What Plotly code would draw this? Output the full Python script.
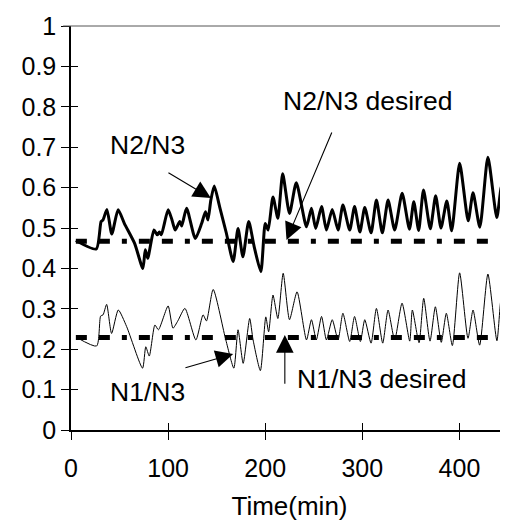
import plotly.graph_objects as go

# ---------------- data ----------------
n2_time = [5, 26, 31, 33, 37, 42, 48.5, 55, 65.5, 74, 76.5, 79, 85.4, 88.8, 91, 93,
           100, 104, 107.3, 112, 114, 119, 128, 134.5, 138.5, 141, 144, 147.5, 153,
           160, 167, 172, 177, 183, 188.6, 195.5, 200, 203, 208, 213, 218, 225, 232,
           242.5, 247.6, 252, 258, 263, 269, 275, 280, 287, 292, 297.5, 302.5, 309,
           314.5, 320.6, 326.5, 333.3, 341, 348.5, 353, 358, 363, 370, 375.5, 381,
           387, 392, 400.2, 409, 414, 421, 429.3, 438.5, 443.5, 450]
n2_ratio = [0.469, 0.448, 0.516, 0.52, 0.546, 0.485, 0.545, 0.511, 0.462, 0.40, 0.446, 0.425,
            0.495, 0.483, 0.49, 0.483, 0.545, 0.52, 0.495, 0.516, 0.505, 0.549, 0.474,
            0.511, 0.54, 0.52, 0.569, 0.604, 0.553, 0.487, 0.417, 0.499, 0.429, 0.516,
            0.454, 0.392, 0.511, 0.495, 0.577, 0.524, 0.634, 0.536, 0.612, 0.503, 0.549,
            0.499, 0.553, 0.495, 0.546, 0.495, 0.557, 0.495, 0.553, 0.49, 0.551, 0.488,
            0.569, 0.488, 0.569, 0.495, 0.586, 0.497, 0.565, 0.494, 0.594, 0.498, 0.58,
            0.5, 0.567, 0.493, 0.66, 0.518, 0.587, 0.502, 0.675, 0.526, 0.605, 0.538]

n1_time = [5.8, 26.4, 30.5, 33, 36.7, 41.8, 48.7, 57.3, 73.7, 77, 80.6, 86.4, 90, 100,
           105, 110, 117.3, 128.6, 136, 139.5, 146.4, 159, 167.7, 172, 177.3, 184,
           187.5, 195, 200.6, 203.5, 208, 213, 218.5, 225, 232.8, 242.5, 247.6, 252.6,
           258, 263, 269, 275, 280, 287, 292, 298, 302.5, 309, 314.5, 321, 326.5,
           333.3, 340.9, 348.8, 351.5, 358.4, 363.2, 369.7, 375.2, 381.3, 386.5,
           392.7, 400.2, 408.8, 414, 420.8, 429.3, 438.6, 443, 449]
n1_ratio = [0.229, 0.208, 0.282, 0.285, 0.311, 0.239, 0.297, 0.256, 0.153, 0.206, 0.183,
            0.26, 0.248, 0.307, 0.252, 0.27, 0.301, 0.223, 0.285, 0.27, 0.348, 0.227,
            0.153, 0.248, 0.165, 0.276, 0.223, 0.147, 0.28, 0.243, 0.334, 0.276, 0.388,
            0.273, 0.342, 0.223, 0.273, 0.223, 0.281, 0.223, 0.273, 0.223, 0.289, 0.219,
            0.281, 0.219, 0.273, 0.215, 0.301, 0.215, 0.297, 0.223, 0.314, 0.22, 0.297,
            0.216, 0.326, 0.22, 0.305, 0.217, 0.289, 0.209, 0.389, 0.227, 0.297, 0.21,
            0.386, 0.221, 0.326, 0.235]

desired_time = [5, 436]
n2_desired = [0.467, 0.467]
n1_desired = [0.229, 0.229]

x_ticks = [0, 100, 200, 300, 400]
y_ticks = [0, 0.1, 0.2, 0.3, 0.4, 0.5, 0.6, 0.7, 0.8, 0.9, 1]

FONT = "Arial, Liberation Sans, sans-serif"

fig = go.Figure()
dash_pat = "11px,12px,11px,12px,5px,12px"
fig.add_trace(go.Scatter(x=desired_time, y=n2_desired, mode="lines",
                         line=dict(color="black", width=5, dash=dash_pat), showlegend=False))
fig.add_trace(go.Scatter(x=desired_time, y=n1_desired, mode="lines",
                         line=dict(color="black", width=5, dash=dash_pat), showlegend=False))
fig.add_trace(go.Scatter(x=n2_time, y=n2_ratio, mode="lines",
                         line=dict(color="black", width=3, shape="spline", smoothing=0.6),
                         showlegend=False))
fig.add_trace(go.Scatter(x=n1_time, y=n1_ratio, mode="lines",
                         line=dict(color="black", width=1, shape="spline", smoothing=0.6),
                         showlegend=False))
# invisible trace to anchor overlay axes (inside half of the crossing ticks)
fig.add_trace(go.Scatter(x=[None], y=[None], xaxis="x2", yaxis="y2", showlegend=False))

axis_common = dict(showgrid=False, zeroline=False, linecolor="black", linewidth=1.5,
                   tickcolor="black", tickwidth=1, ticklen=8, ticks="outside",
                   automargin=False,
                   tickfont=dict(family=FONT, size=25, color="black"))
# page body has an 8px margin, so the figure is sized/offset to compensate
fig.update_layout(
    template="none",
    width=500, height=519,
    margin=dict(l=63, r=0, t=18, b=97, pad=0),
    plot_bgcolor="white", paper_bgcolor="white",
    font=dict(family=FONT, size=25, color="black"),
    xaxis=dict(range=[0, 450], tickvals=x_ticks, showline=True, ticklabelstandoff=7,
               title=dict(text="Time(min)", font=dict(family=FONT, size=26), standoff=16),
               **axis_common),
    yaxis=dict(range=[0, 1], tickvals=y_ticks, showline=True, **axis_common),
    xaxis2=dict(range=[0, 450], tickvals=x_ticks, overlaying="x", side="bottom",
                anchor="y2", showticklabels=False, ticks="inside", ticklen=7,
                tickcolor="black", showgrid=False, zeroline=False, showline=False,
                automargin=False),
    yaxis2=dict(range=[0, 1], tickvals=y_ticks, overlaying="y", side="left",
                anchor="x2", showticklabels=False, ticks="inside", ticklen=7,
                tickcolor="black", showgrid=False, zeroline=False, showline=False,
                automargin=False),
    showlegend=False,
)
# top border of plot area
fig.add_shape(type="line", xref="paper", yref="paper", x0=-0.018, x1=1, y0=1, y1=1,
              line=dict(color="#555555", width=1))

ann_font = dict(family=FONT, size=26.5, color="black")
texts = [("N2/N3", 79, 0.705), ("N2/N3 desired", 305, 0.815),
         ("N1/N3", 79, 0.093), ("N1/N3 desired", 320, 0.126)]
for t, x, y in texts:
    fig.add_annotation(x=x, y=y, text=t, showarrow=False, font=ann_font,
                       xanchor="center", yanchor="middle")

arrows = [(144, 0.574, 98.8, 0.639), (221.9, 0.470, 269.2, 0.740),
          (167, 0.188, 116.3, 0.153), (220.2, 0.235, 220.2, 0.111)]
for x, y, ax, ay in arrows:
    fig.add_annotation(x=x, y=y, ax=ax, ay=ay, xref="x", yref="y", axref="x", ayref="y",
                       text="", showarrow=True, arrowhead=2, arrowsize=3.2,
                       arrowwidth=1.1, arrowcolor="black")

fig.write_html("out.html")
